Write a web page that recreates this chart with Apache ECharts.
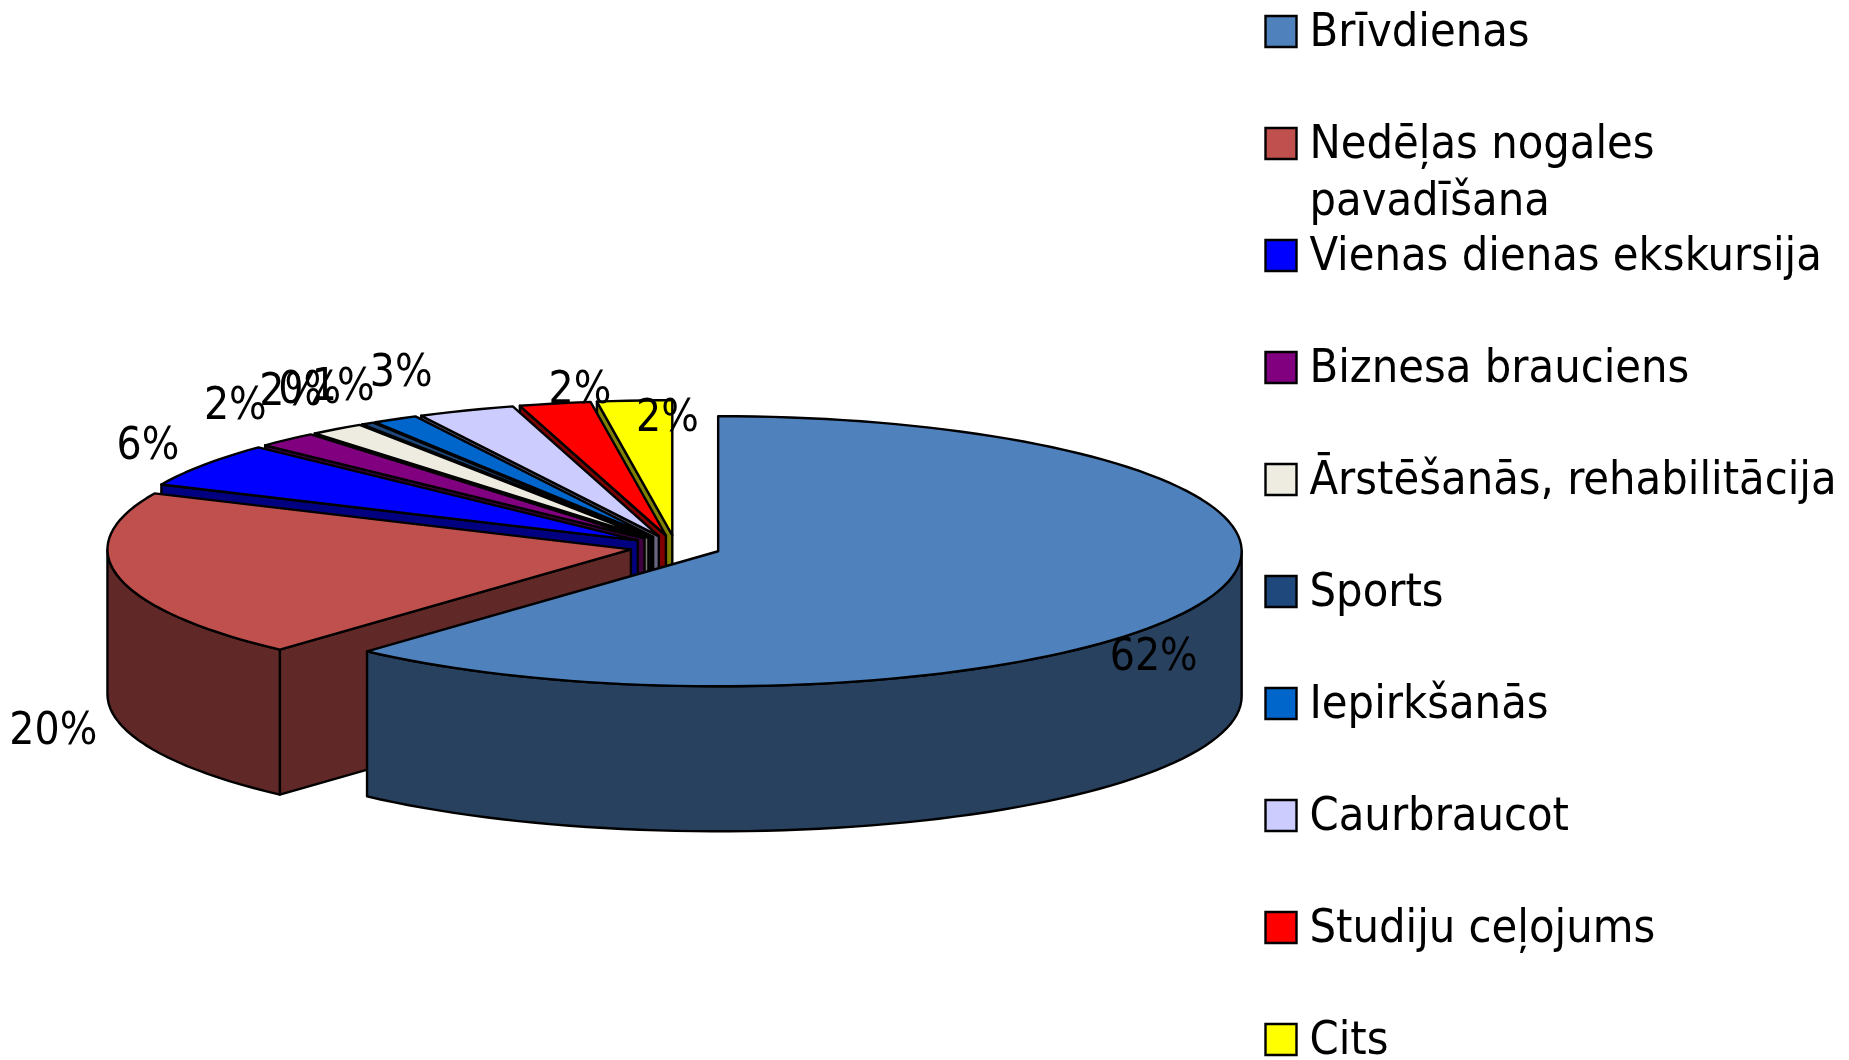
<!DOCTYPE html>
<html>
<head>
<meta charset="utf-8">
<title>Brauciena mērķis</title>
<script src="https://cdn.jsdelivr.net/npm/echarts@6/dist/echarts.min.js"></script>
<style>
  html, body { margin: 0; padding: 0; background: #fff; }
  #chart { width: 1849px; height: 1060px; }
</style>
</head>
<body>
<div id="chart"></div>
<script>
const categories = ['Brīvdienas', 'Nedēļas nogales\npavadīšana', 'Vienas dienas ekskursija', 'Biznesa brauciens',
  'Ārstēšanās, rehabilitācija', 'Sports', 'Iepirkšanās', 'Caurbraucot', 'Studiju ceļojums', 'Cits'];
const shares = [61.7, 20.1, 5.3, 1.9, 1.7, 0.4, 1.4, 3.0, 2.2, 2.3];
const shareLabels = ['62%', '20%', '6%', '2%', '2%', '0%', '1%', '3%', '2%', '2%'];
const topColors = ['#4F81BD', '#C0504D', '#0000FF', '#800080', '#EEECE1', '#1F497D', '#0066CC', '#CCCCFF', '#FF0000', '#FFFF00'];
const wallColors = ['#28415F', '#602826', '#000080', '#400040', '#777671', '#0F253F', '#003366', '#666680', '#800000', '#808000'];

// pie geometry
const cx = 675.6, cy = 547, rx = 523.5, tilt = 0.258, depth = 145, explode = 45.6;
const fontFamily = '"DejaVu Sans Condensed", "DejaVu Sans", sans-serif';
const legendFontSize = 46.5;
const labelFontSize = 44;

// label nudge from the middle of each slice's outer arc
const labelNudge = [[-53, 59], [-65, 156], [-56, -17], [-52, -32], [-46, -35],
  [-58, -32], [-52, -31], [-65, -36], [25, -12], [33, 19]];

const total = shares.reduce((a, b) => a + b, 0);
const deg = d => d * Math.PI / 180;

function sliceAngles(i) {
  const before = shares.slice(0, i).reduce((a, b) => a + b, 0);
  return [before / total * 360, (before + shares[i]) / total * 360];
}

function renderSlice(params, api) {
  const i = params.dataIndex;
  const [a0, a1] = sliceAngles(i);
  const mid = deg((a0 + a1) / 2);
  const ax = cx + explode * Math.sin(mid);
  const ay = cy - explode * Math.cos(mid) * tilt;
  const rim = a => [ax + rx * Math.sin(deg(a)), ay - rx * tilt * Math.cos(deg(a))];
  const drop = p => [p[0], p[1] + depth];
  const arc = (from, to) => {
    const pts = [];
    const n = Math.max(1, Math.ceil((to - from) / 2));
    for (let k = 0; k <= n; k++) pts.push(rim(from + (to - from) * k / n));
    return pts;
  };
  const base = (shares.length - i) * 10;
  const face = (points, fill, z) => ({
    type: 'polygon',
    z2: base + z,
    shape: { points },
    style: { fill, stroke: '#000', lineWidth: 2.4, lineJoin: 'round' }
  });
  const children = [];
  // side cut, only seen on the left half of the pie
  if (a0 > 180) {
    const p = rim(a0);
    children.push(face([p, [ax, ay], [ax, ay + depth], drop(p)], wallColors[i], 0));
  }
  // outer wall, only the part that faces the viewer
  const w0 = Math.max(a0, 90), w1 = Math.min(a1, 270);
  if (w1 > w0) {
    const top = arc(w0, w1);
    children.push(face(top.concat(top.map(drop).reverse()), wallColors[i], 1));
  }
  children.push(face([[ax, ay]].concat(arc(a0, a1)), topColors[i], 2));
  // percentage label
  const out = rim((a0 + a1) / 2);
  children.push({
    type: 'text',
    z2: 500,
    x: out[0] + labelNudge[i][0],
    y: out[1] + labelNudge[i][1],
    style: {
      text: shareLabels[i],
      fill: '#000',
      font: labelFontSize + 'px ' + fontFamily,
      align: 'center',
      verticalAlign: 'middle'
    }
  });
  return { type: 'group', children };
}

// legend on the right, evenly stepped, drawn as graphics because of the two line entry
const legendItems = [];
categories.forEach((name, i) => {
  const y = 31.5 + i * 112;
  legendItems.push({
    type: 'rect',
    shape: { x: 1265.5, y: y - 15.5, width: 31, height: 31 },
    style: { fill: topColors[i], stroke: '#000', lineWidth: 2.4 }
  });
  legendItems.push({
    type: 'text',
    x: 1309.5,
    y: y - 26,
    style: { text: name, fill: '#000', font: legendFontSize + 'px ' + fontFamily, lineHeight: 57, verticalAlign: 'top' }
  });
});

const chart = echarts.init(document.getElementById('chart'));
chart.setOption({
  animation: false,
  backgroundColor: '#fff',
  graphic: { elements: legendItems },
  series: [{
    type: 'custom',
    coordinateSystem: 'none',
    silent: true,
    renderItem: renderSlice,
    data: shares.map(v => [v])
  }]
});
</script>
</body>
</html>
